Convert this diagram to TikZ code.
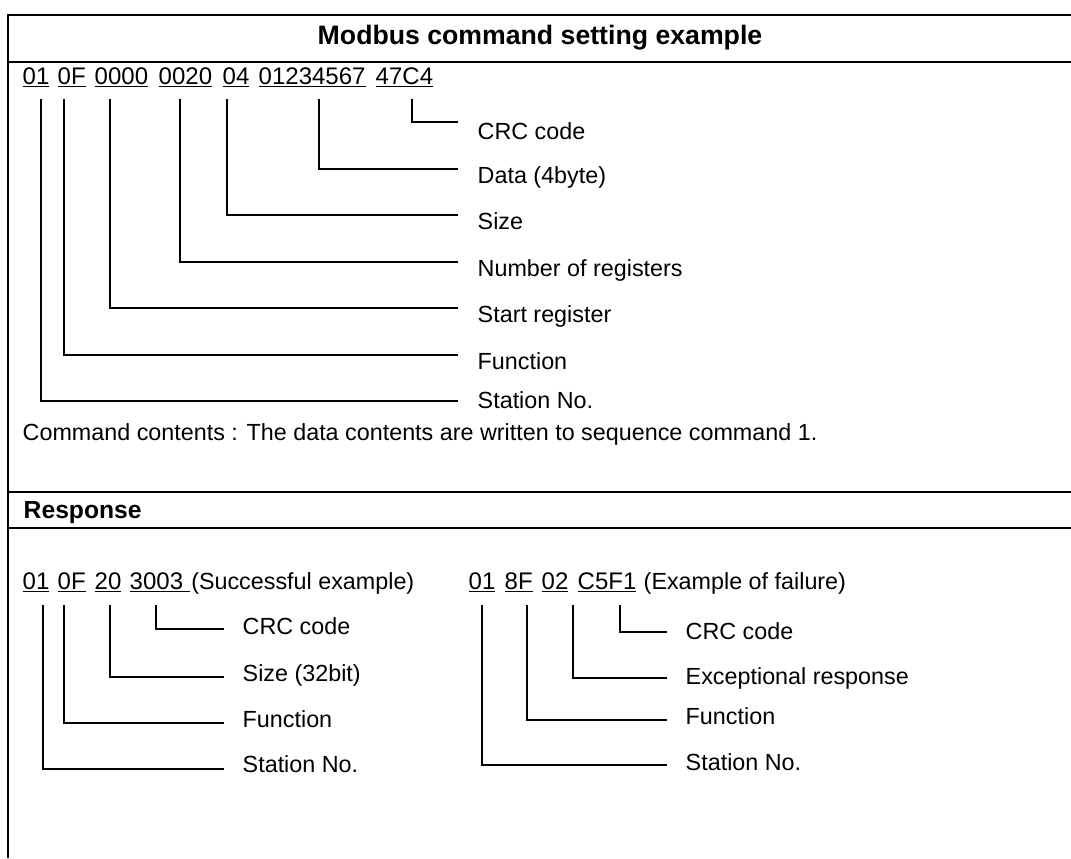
\documentclass[tikz,border=0pt]{standalone}
\usepackage{fontspec}
\setmainfont{Liberation Sans}

\newcommand{\segline}[1]{\leavevmode\setbox0\hbox{#1}\rlap{\rule[-2.6pt]{\wd0}{1pt}}\box0}

\begin{document}
\begin{tikzpicture}[
    x=0.75pt, y=-0.75pt,
    every path/.style={line width=1.1pt},
    frame/.style={line width=1.6pt},
    hexseg/.style={inner sep=0pt, anchor=base west, font=\fontsize{18}{20}\selectfont},
    lbl/.style={inner sep=0pt, anchor=base west, font=\fontsize{17.5}{19}\selectfont},
    head/.style={inner sep=0pt, font=\bfseries\fontsize{20}{22}\selectfont}
]
\useasboundingbox (0,0) rectangle (1071,858);

    \draw [frame] (1071,15) -- (8,15) -- (8,858);
    \draw [frame] (8,62) -- (1071,62);
    \draw [frame] (8,492) -- (1071,492);
    \draw [frame] (8,528) -- (1071,528);

    \node [head, anchor=base] (title) at (540,44) {Modbus command setting example};

    \node [hexseg] (sta) at (22,84) {\segline{01}};
    \node [hexseg] (fun) at (57,84) {\segline{0F}};
    \node [hexseg] (reg) at (94,84) {\segline{0000}};
    \node [hexseg] (num) at (158,84) {\segline{0020}};
    \node [hexseg] (siz) at (222,84) {\segline{04}};
    \node [hexseg] (dat) at (258,84) {\segline{01234567}};
    \node [hexseg] (crc) at (375,84) {\segline{47C4}};

    \coordinate (crcA) at (412,99);
    \coordinate (crcB) at (458,122);
    \coordinate (datA) at (319,99);
    \coordinate (datB) at (458,169);
    \coordinate (sizA) at (227,99);
    \coordinate (sizB) at (458,215);
    \coordinate (numA) at (180,99);
    \coordinate (numB) at (458,262);
    \coordinate (regA) at (110,99);
    \coordinate (regB) at (458,308);
    \coordinate (funA) at (64,99);
    \coordinate (funB) at (458,355);
    \coordinate (staA) at (41,99);
    \coordinate (staB) at (458,401);

    \draw (crcA) |- (crcB);
    \draw (datA) |- (datB);
    \draw (sizA) |- (sizB);
    \draw (numA) |- (numB);
    \draw (regA) |- (regB);
    \draw (funA) |- (funB);
    \draw (staA) |- (staB);

    \node [lbl] (crcL) at (477,139) {CRC code};
    \node [lbl] (datL) at (477,183) {Data (4byte)};
    \node [lbl] (sizL) at (477,229) {Size};
    \node [lbl] (numL) at (477,276) {Number of registers};
    \node [lbl] (regL) at (477,322) {Start register};
    \node [lbl] (funL) at (477,369) {Function};
    \node [lbl] (staL) at (477,408) {Station No.};

    \node [lbl] (note) at (22,440) {Command contents : The data contents are written to sequence command 1.};

    \node [head, anchor=base west, font=\bfseries\fontsize{18.5}{20}\selectfont] (resp) at (23,518) {Response};

    % successful response
    \node [hexseg] (osta) at (22,589) {\segline{01}};
    \node [hexseg] (ofun) at (57,589) {\segline{0F}};
    \node [hexseg] (osiz) at (94,589) {\segline{20}};
    \node [hexseg] (ocrc) at (129,589) {\segline{3003\ }};
    \node [lbl] (okex) at (ocrc.base east) {(Successful example)};

    \coordinate (ocrcA) at (156,605);
    \coordinate (ocrcB) at (224,629);
    \coordinate (osizA) at (110,605);
    \coordinate (osizB) at (224,677);
    \coordinate (ofunA) at (64,605);
    \coordinate (ofunB) at (224,723);
    \coordinate (ostaA) at (43,605);
    \coordinate (ostaB) at (224,769);

    \draw (ocrcA) |- (ocrcB);
    \draw (osizA) |- (osizB);
    \draw (ofunA) |- (ofunB);
    \draw (ostaA) |- (ostaB);

    \node [lbl] (ocrcL) at (242,634) {CRC code};
    \node [lbl] (osizL) at (242,681) {Size (32bit)};
    \node [lbl] (ofunL) at (242,727) {Function};
    \node [lbl] (ostaL) at (242,772) {Station No.};

    % failed response
    \node [hexseg] (fsta) at (468,589) {\segline{01}};
    \node [hexseg] (ffun) at (504,589) {\segline{8F}};
    \node [hexseg] (fexc) at (541,589) {\segline{02}};
    \node [hexseg] (fcrc) at (577,589) {\segline{C5F1}};
    \node [lbl] (ngex) at (643,589) {(Example of failure)};

    \coordinate (fcrcA) at (620,605);
    \coordinate (fcrcB) at (667,632);
    \coordinate (fexcA) at (573,605);
    \coordinate (fexcB) at (667,678);
    \coordinate (ffunA) at (527,605);
    \coordinate (ffunB) at (667,720);
    \coordinate (fstaA) at (482,605);
    \coordinate (fstaB) at (667,765);

    \draw (fcrcA) |- (fcrcB);
    \draw (fexcA) |- (fexcB);
    \draw (ffunA) |- (ffunB);
    \draw (fstaA) |- (fstaB);

    \node [lbl] (fcrcL) at (685,639) {CRC code};
    \node [lbl] (fexcL) at (685,684) {Exceptional response};
    \node [lbl] (ffunL) at (685,724) {Function};
    \node [lbl] (fstaL) at (685,770) {Station No.};
\end{tikzpicture}
\end{document}
